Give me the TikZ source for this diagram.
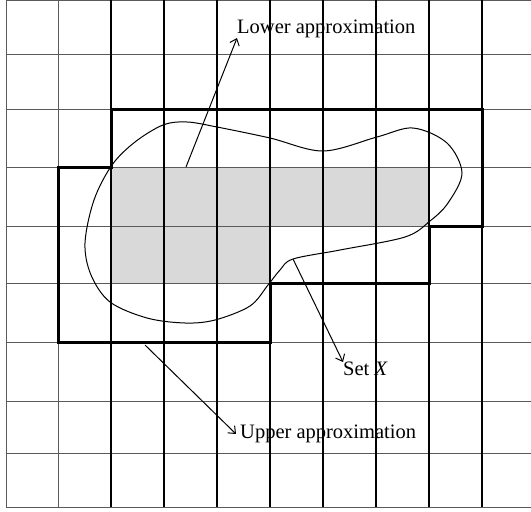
\documentclass[tikz,border=0pt]{standalone}
\usepackage{fontspec}
\setmainfont{Liberation Serif}
\usetikzlibrary{arrows.meta}
\definecolor{gridline}{HTML}{5A5A5A}
\definecolor{lowfill}{HTML}{D9D9D9}

\begin{document}
\begin{tikzpicture}[x=1pt, y=-1pt, every node/.style={font=\fontsize{20.5}{24}\selectfont, inner sep=0pt}]
  \useasboundingbox (0,0) rectangle (531,512);

  % lower approximation cells
  \fill[lowfill] (111,167) rectangle (429,226);
  \fill[lowfill] (111,226) rectangle (270,283);

  % grid rows
  \draw[gridline, line width=1pt] (6,0)   -- (531,0);
  \draw[gridline, line width=1pt] (6,54)  -- (531,54);
  \draw[gridline, line width=1pt] (6,109) -- (531,109);
  \draw[gridline, line width=1pt] (6,167) -- (531,167);
  \draw[gridline, line width=1pt] (6,226) -- (531,226);
  \draw[gridline, line width=1pt] (6,283) -- (531,283);
  \draw[gridline, line width=1pt] (6,342) -- (531,342);
  \draw[gridline, line width=1pt] (6,401) -- (531,401);
  \draw[gridline, line width=1pt] (6,453) -- (531,453);
  \draw[gridline, line width=1pt] (6,507) -- (531,507);
  % grid columns
  \draw[gridline, line width=1pt] (6,0)   -- (6,507);
  \draw[gridline, line width=1pt] (58,0)  -- (58,507);
  \draw[black, line width=1.2pt]  (111,0) -- (111,507);
  \draw[black, line width=1.2pt]  (164,0) -- (164,507);
  \draw[black, line width=1.2pt]  (217,0) -- (217,507);
  \draw[black, line width=1.2pt]  (270,0) -- (270,507);
  \draw[black, line width=1.2pt]  (323,0) -- (323,507);
  \draw[black, line width=1.2pt]  (376,0) -- (376,507);
  \draw[black, line width=1.2pt]  (429,0) -- (429,507);
  \draw[black, line width=1.2pt]  (482,0) -- (482,507);

  % upper approximation
  \draw[line width=3pt, line join=miter]
    (111,109) -- (482,109) -- (482,226) -- (429,226) -- (429,283) -- (270,283)
    -- (270,342) -- (58,342) -- (58,167) -- (111,167) -- cycle;

  % set X
  \draw[line width=1pt] plot[smooth cycle, tension=0.55] coordinates {
    (112,165) (135,142) (163,125) (187,122) (217,127) (270,138) (323,151)
    (377,137) (413,128) (447,143) (462,173) (448,203) (430,221) (405,237)
    (340,250) (293,259) (280,270) (268,285) (250,306) (215,320) (185,323)
    (147,318) (110,302) (91,275) (85,243) (94,200)};

  \coordinate (lowtail) at (186,167);
  \coordinate (settail) at (293,259);
  \coordinate (uptail)  at (145,345);

  \node[anchor=south west] (lowlabel) at (237,38)  {Lower approximation};
  \node[anchor=north west] (setlabel) at (343,362) {Set \textit{X}};
  \node[anchor=west, inner xsep=4pt] (uplabel) at (236,434) {Upper approximation};

  \draw[-{Straight Barb[length=6pt, width=10pt]}, line width=1pt] (lowtail) -- (lowlabel.south west);
  \draw[-{Straight Barb[length=6pt, width=10pt]}, line width=1pt] (settail) -- (setlabel.north west);
  \draw[-{Straight Barb[length=6pt, width=10pt]}, line width=1pt] (uptail)  -- (uplabel.west);
\end{tikzpicture}
\end{document}
